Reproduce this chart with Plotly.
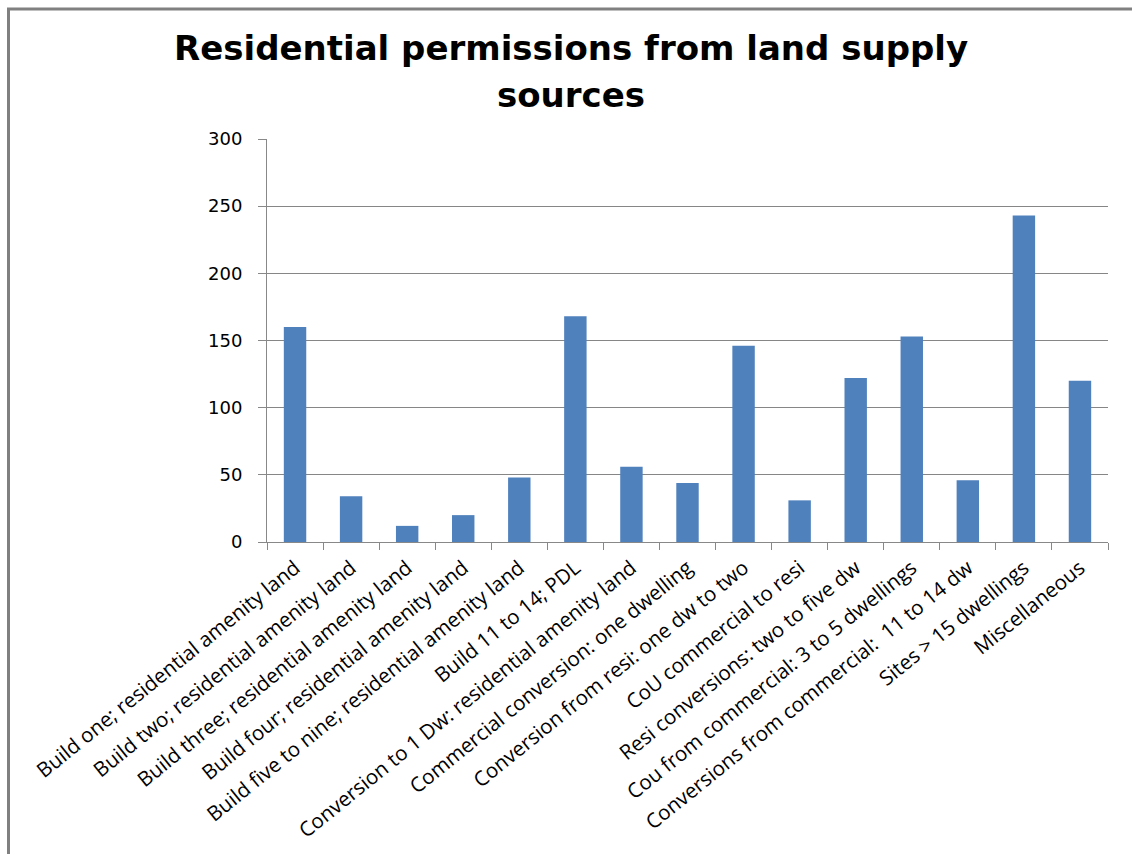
import plotly.graph_objects as go

categories = [
    "Build one; residential amenity land",
    "Build two; residential amenity land",
    "Build three; residential amenity land",
    "Build four; residential amenity land",
    "Build five to nine; residential amenity land",
    "Build 11 to 14; PDL",
    "Conversion to 1 Dw: residential amenity land",
    "Commercial conversion: one dwelling",
    "Conversion from resi: one dw to two",
    "CoU commercial to resi",
    "Resi conversions: two to five dw",
    "Cou from commercial: 3 to 5 dwellings",
    "Conversions from commercial:  11 to 14 dw",
    "Sites > 15 dwellings",
    "Miscellaneous",
]
values = [160, 34, 12, 20, 48, 168, 56, 44, 146, 31, 122, 153, 46, 243, 120]
y_ticks = [0, 50, 100, 150, 200, 250, 300]

title_line1 = "Residential permissions from land supply"
title_line2 = "sources"

W, H = 1132, 854
L, R, T, B = 267, 24, 139, 312
pw, ph = W - L - R, H - T - B


def px_x(x):
    return (x - L) / pw


def px_y(y):
    return (H - B - y) / ph


fig = go.Figure()
fig.add_trace(go.Bar(
    x=categories,
    y=values,
    marker=dict(color="#4F81BD", line=dict(width=0)),
))

fig.update_layout(
    width=W,
    height=H,
    margin=dict(l=L, r=R, t=T, b=B, autoexpand=False),
    paper_bgcolor="white",
    plot_bgcolor="white",
    bargap=0.6,
    showlegend=False,
    font=dict(family="Open Sans", color="black"),
)

fig.update_xaxes(
    type="category",
    tickangle=-39,
    tickfont=dict(family="Open Sans", size=20.5, color="black"),
    showline=True,
    linecolor="#888888",
    linewidth=1,
    ticks="outside",
    tickson="boundaries",
    ticklen=7,
    tickcolor="#888888",
    ticklabelstandoff=5,
    showgrid=False,
)

fig.update_yaxes(
    range=[0, 300],
    tickvals=y_ticks,
    ticktext=[str(v) for v in y_ticks],
    tickfont=dict(family="DejaVu Sans", size=18, color="black"),
    showline=True,
    linecolor="#888888",
    linewidth=1,
    ticks="outside",
    ticklen=8,
    tickcolor="#888888",
    ticklabelstandoff=12,
    showgrid=True,
    gridcolor="#868686",
    gridwidth=1,
    zeroline=False,
)

fig.add_annotation(
    text="<b>" + title_line1 + "</b>",
    xref="paper", yref="paper",
    x=px_x(571), y=px_y(48),
    xanchor="center", yanchor="middle",
    showarrow=False,
    font=dict(family="DejaVu Sans", size=34, color="black"),
)
fig.add_annotation(
    text="<b>" + title_line2 + "</b>",
    xref="paper", yref="paper",
    x=px_x(571), y=px_y(95),
    xanchor="center", yanchor="middle",
    showarrow=False,
    font=dict(family="DejaVu Sans", size=34, color="black"),
)

# outer chart border (top and left visible)
fig.add_shape(
    type="rect",
    xref="paper", yref="paper",
    x0=px_x(8.5), y0=px_y(H + 20),
    x1=px_x(W + 20), y1=px_y(9),
    line=dict(color="#808080", width=3),
    fillcolor="rgba(0,0,0,0)",
    layer="above",
)

fig.write_html("out.html")
